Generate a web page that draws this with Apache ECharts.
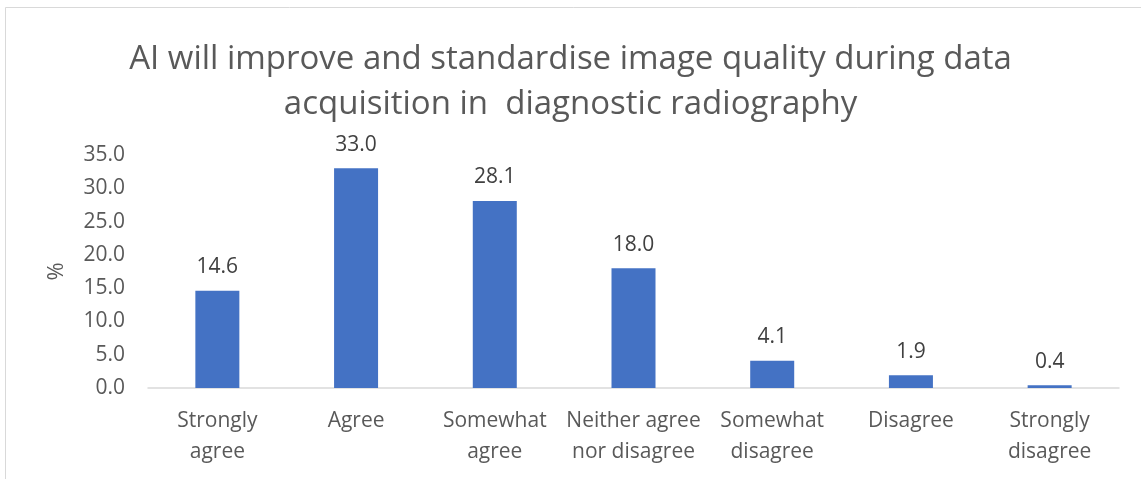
<!DOCTYPE html>
<html><head><meta charset="utf-8">
<script src="https://cdn.jsdelivr.net/npm/echarts@6/dist/echarts.min.js"></script>
<style>html,body{margin:0;padding:0;background:#fff}#c{width:1141px;height:479px}</style>
</head><body><div id="c"></div>
<script>
const categories = ["Strongly\nagree","Agree","Somewhat\nagree","Neither agree\nnor disagree","Somewhat\ndisagree","Disagree","Strongly\ndisagree"];
const values = [14.6, 33.0, 28.1, 18.0, 4.1, 1.9, 0.4];
const titleText = "AI will improve and standardise image quality during data\nacquisition in  diagnostic radiography";
const yName = "%";

const FONT = "Open Sans";
const chart = echarts.init(document.getElementById('c'), null, {renderer:'canvas'});
chart.setOption({
  animation:false,
  backgroundColor:'#fff',
  graphic:[{type:'rect', shape:{x:5.5,y:7.5,width:1200,height:600}, style:{fill:'none', stroke:'#d9d9d9', lineWidth:1}, silent:true}],
  title:{text:titleText, left:'center', top:32, textStyle:{fontFamily:FONT, fontSize:33, fontWeight:'normal', color:'#595959', lineHeight:45}},
  grid:{left:148, right:22, top:155, bottom:91},
  xAxis:{type:'category', data:categories,
    axisLine:{lineStyle:{color:'#d9d9d9', width:1.5}}, axisTick:{show:false},
    axisLabel:{fontFamily:FONT, fontSize:21, color:'#595959', lineHeight:31, margin:18, interval:0}},
  yAxis:{type:'value', min:0, max:35, interval:5, name:yName, nameLocation:'middle', nameGap:80, nameRotate:90,
    nameTextStyle:{fontFamily:FONT, fontSize:22, color:'#595959'},
    splitLine:{show:false}, axisLine:{show:false}, axisTick:{show:false},
    axisLabel:{fontFamily:FONT, fontSize:21, color:'#595959', margin:23, formatter:v=>v.toFixed(1)}},
  series:[{type:'bar', data:values, barWidth:44, itemStyle:{color:'#4472C4'},
    label:{show:true, position:'top', distance:13, fontFamily:FONT, fontSize:21, color:'#404040', formatter:p=>p.value.toFixed(1)}}]
});
</script></body></html>
